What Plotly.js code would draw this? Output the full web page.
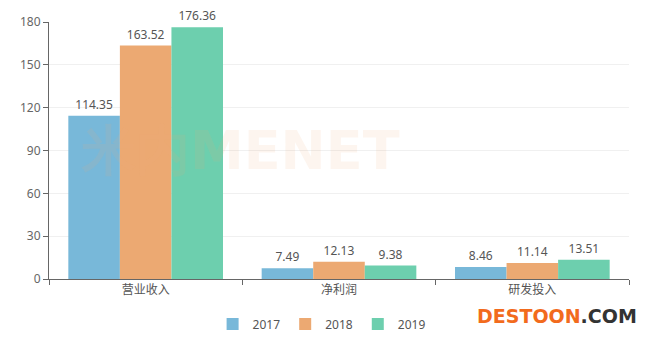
<!DOCTYPE html>
<html><head><meta charset="utf-8">
<script src="https://cdn.plot.ly/plotly-3.0.1.min.js"></script>
<style>html,body{margin:0;padding:0;background:#fff}#c{width:651px;height:338px}</style>
</head><body><div id="c"></div>
<script>
const categories = ['营业收入', '净利润', '研发投入'];
const years = ['2017', '2018', '2019'];
const v2017 = [114.35, 7.49, 8.46];
const v2018 = [163.52, 12.13, 11.14];
const v2019 = [176.36, 9.38, 13.51];
const yTicks = [0, 30, 60, 90, 120, 150, 180];
const colors = ['#78b8d9', '#eca972', '#6dcfae'];

const series = [v2017, v2018, v2019];
const traces = series.map((vals, i) => ({
  type: 'bar', name: years[i], x: categories, y: vals,
  marker: {color: colors[i]},
  text: vals.map(v => v.toFixed(2)), textposition: 'outside',
  textfont: {family: 'Noto Sans, sans-serif', size: 12, color: '#555'},
  cliponaxis: false, hoverinfo: 'none'
}));

const layout = {
  width: 651, height: 338,
  margin: {l: 49, r: 22, t: 22, b: 59, autoexpand: false},
  paper_bgcolor: '#fff', plot_bgcolor: '#fff',
  barmode: 'group', bargap: 0.2, bargroupgap: 0,
  font: {family: '"Noto Sans CJK SC", "Noto Sans", sans-serif', color: '#666', size: 12},
  xaxis: {
    showline: true, linecolor: '#666', linewidth: 1,
    ticks: 'outside', tickson: 'boundaries', ticklen: 5, tickcolor: '#666',
    tickfont: {size: 12, color: '#555'}, showgrid: false, fixedrange: true
  },
  yaxis: {
    range: [0, 180], tickvals: yTicks, ticktext: yTicks.map(String),
    showline: true, linecolor: '#666', linewidth: 1,
    ticks: 'outside', ticklen: 5, tickcolor: '#666',
    gridcolor: '#f0f0f0', zeroline: false,
    tickfont: {family: 'Noto Sans, sans-serif', size: 12, color: '#666'}
  },
  showlegend: true,
  legend: {
    orientation: 'h', x: 0.47, xanchor: 'center', y: -0.175, yanchor: 'middle',
    font: {family: 'Noto Sans, sans-serif', size: 12, color: '#555'},
    itemwidth: 30, traceorder: 'normal'
  },
  annotations: [
    {xref: 'paper', yref: 'paper', x: 0.33, y: 0.5, xanchor: 'center', yanchor: 'middle',
     text: '米内MENET', showarrow: false,
     font: {family: 'DejaVu Sans, sans-serif', size: 54, color: 'rgba(240,170,120,0.12)', weight: 'bold'}},
    {xref: 'paper', yref: 'paper', x: 1.018, y: -0.144, xanchor: 'right', yanchor: 'middle',
     text: '<b><span style="color:#f26b1d">DESTOON</span><span style="color:#333">.COM</span></b>',
     showarrow: false,
     font: {family: 'DejaVu Sans, sans-serif', size: 19}}
  ]
};

Plotly.newPlot('c', traces, layout, {displayModeBar: false, staticPlot: true});
</script></body></html>
